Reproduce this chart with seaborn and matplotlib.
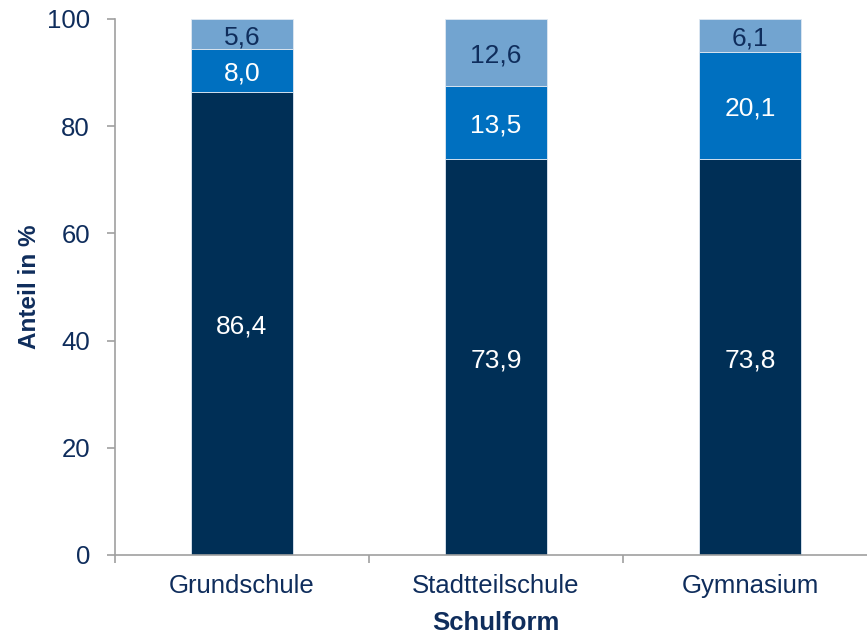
import pandas as pd
import matplotlib
matplotlib.use("Agg")
import matplotlib.pyplot as plt
import seaborn as sns

schulformen = ["Grundschule", "Stadtteilschule", "Gymnasium"]
anteil_unten = [86.4, 73.9, 73.8]
anteil_mitte = [8.0, 13.5, 20.1]
anteil_oben = [5.6, 12.6, 6.1]

sns.set_style("white")
plt.rcParams['font.family'] = ['Liberation Sans', 'DejaVu Sans']

text_col = '#0f2d5c'
farben = ['#002f56', '#0070c0', '#72a4d0']
label_farben = ['white', 'white', text_col]

df = pd.DataFrame({
    'Schulform': schulformen,
    'unten': anteil_unten,
    'mitte': anteil_mitte,
    'oben': anteil_oben,
})

fig = plt.figure(figsize=(8.67, 6.39), dpi=100)
ax = fig.add_axes([0.1326, 0.1315, 0.879, 0.839])

bottom = [0.0] * len(df)
for spalte, farbe, lcol in zip(['unten', 'mitte', 'oben'], farben, label_farben):
    sns.barplot(
        x='Schulform',
        y=spalte,
        data=df,
        color=farbe,
        bottom=bottom,
        width=0.4,
        edgecolor='#dfe8f2',
        linewidth=0.6,
        saturation=1,
        ax=ax,
    )
    # values in the middle of each segment
    for i, v in enumerate(df[spalte]):
        ax.text(i, bottom[i] + v / 2 - 0.6, f"{v:.1f}".replace('.', ','),
                ha='center', va='center', color=lcol, fontsize=19)
    bottom = [b + v for b, v in zip(bottom, df[spalte])]

ax.set_xlim(-0.5, 2.5)
ax.set_ylim(0, 100)
ax.set_yticks([0, 20, 40, 60, 80, 100])
ax.set_xticks([-0.5, 0.5, 1.5, 2.5], minor=False)
ax.set_xticklabels([])
ax.set_xticks([0, 1, 2], minor=True)
ax.set_xticklabels(schulformen, minor=True)

ax.tick_params(axis='y', which='major', length=6, color='#a0a0a0', width=1.2,
               labelsize=18.5, labelcolor=text_col, pad=12, left=True)
ax.tick_params(axis='x', which='major', length=6, color='#a0a0a0', width=1.2,
               bottom=True, direction='out')
ax.tick_params(axis='x', which='minor', length=0, labelsize=18.5,
               labelcolor=text_col, pad=14)

for s in ['top', 'right']:
    ax.spines[s].set_visible(False)
for s in ['left', 'bottom']:
    ax.spines[s].set_color('#a0a0a0')
    ax.spines[s].set_linewidth(1.2)

ax.set_ylabel('Anteil in %', fontsize=17.5, fontweight='bold', color=text_col, labelpad=4)
ax.set_xlabel('Schulform', fontsize=18.5, fontweight='bold', color=text_col, labelpad=9)

fig.savefig('out.png', dpi=100)
